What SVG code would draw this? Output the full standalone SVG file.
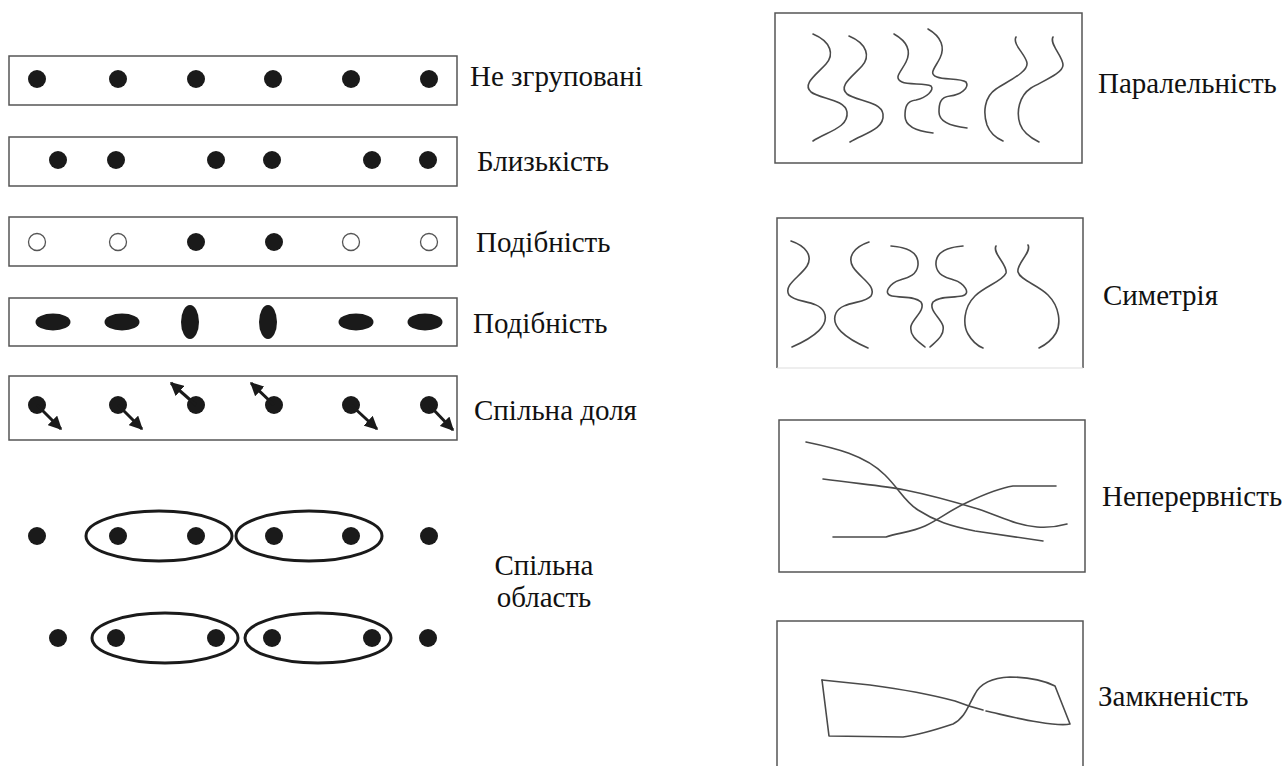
<svg xmlns="http://www.w3.org/2000/svg" width="1284" height="766" viewBox="0 0 1284 766">
<defs>
<style>
.box{fill:none;stroke:#555;stroke-width:1.5}
.dot{fill:#1a1a1a}
.open{fill:#fff;stroke:#555;stroke-width:1.3}
.ring{fill:none;stroke:#1a1a1a;stroke-width:3}
.arr{stroke:#1a1a1a;stroke-width:3;fill:none}
.crv{fill:none;stroke:#4a4a4a;stroke-width:1.6;stroke-linecap:round;stroke-linejoin:round}
.lbl{font-family:'Liberation Serif','Times New Roman',serif;font-size:29px;fill:#111}
</style>
<marker id="ah" viewBox="0 0 10 10" refX="9" refY="5" markerWidth="4.5" markerHeight="4.5" orient="auto" markerUnits="strokeWidth">
<path d="M0,0 L10,5 L0,10 z" fill="#1a1a1a"/>
</marker>
</defs>
<rect width="1284" height="766" fill="#fff"/>

<g id="row-ungrouped">
<rect class="box" x="9" y="56" width="448" height="49"/>
<circle class="dot" cx="37" cy="79" r="9"/><circle class="dot" cx="118" cy="79" r="9"/><circle class="dot" cx="196" cy="79" r="9"/>
<circle class="dot" cx="273" cy="79" r="9"/><circle class="dot" cx="351" cy="79" r="9"/><circle class="dot" cx="429" cy="79" r="9"/>
<text class="lbl" x="470" y="86" font-family="'Liberation Serif', serif">Не згруповані</text>
</g>

<g id="row-proximity">
<rect class="box" x="9" y="137" width="448" height="49"/>
<circle class="dot" cx="58" cy="160" r="9"/><circle class="dot" cx="116" cy="160" r="9"/><circle class="dot" cx="216" cy="160" r="9"/>
<circle class="dot" cx="272" cy="160" r="9"/><circle class="dot" cx="372" cy="160" r="9"/><circle class="dot" cx="428" cy="160" r="9"/>
<text class="lbl" x="477" y="171" font-family="'Liberation Serif', serif">Близькість</text>
</g>

<g id="row-similarity1">
<rect class="box" x="9" y="217" width="448" height="49"/>
<circle class="open" cx="37" cy="242" r="8.5"/><circle class="open" cx="118" cy="242" r="8.5"/><circle class="dot" cx="196" cy="242" r="9"/>
<circle class="dot" cx="274" cy="242" r="9"/><circle class="open" cx="351" cy="242" r="8.5"/><circle class="open" cx="429" cy="242" r="8.5"/>
<text class="lbl" x="476" y="252" font-family="'Liberation Serif', serif">Подібність</text>
</g>

<g id="row-similarity2">
<rect class="box" x="9" y="298" width="448" height="48"/>
<ellipse class="dot" cx="53" cy="322" rx="17.5" ry="8.5"/><ellipse class="dot" cx="122" cy="322" rx="17.5" ry="8.5"/>
<ellipse class="dot" cx="190" cy="322" rx="9" ry="17"/><ellipse class="dot" cx="268" cy="322" rx="9" ry="17"/>
<ellipse class="dot" cx="356" cy="322" rx="17.5" ry="8.5"/><ellipse class="dot" cx="425" cy="322" rx="17.5" ry="8.5"/>
<text class="lbl" x="473" y="333" font-family="'Liberation Serif', serif">Подібність</text>
</g>

<g id="row-common-fate">
<rect class="box" x="9" y="376" width="448" height="64"/>
<circle class="dot" cx="37" cy="405" r="9"/><circle class="dot" cx="118" cy="405" r="9"/><circle class="dot" cx="196" cy="405" r="9"/>
<circle class="dot" cx="274" cy="405" r="9"/><circle class="dot" cx="351" cy="405" r="9"/><circle class="dot" cx="429" cy="405" r="9"/>
<text class="lbl" x="474" y="420" font-family="'Liberation Serif', serif">Спільна доля</text>
</g>

<g id="row-common-region">
<circle class="dot" cx="37" cy="536" r="9"/><circle class="dot" cx="118" cy="536" r="9"/><circle class="dot" cx="196" cy="536" r="9"/>
<circle class="dot" cx="274" cy="536" r="9"/><circle class="dot" cx="351" cy="536" r="9"/><circle class="dot" cx="429" cy="536" r="9"/>
<ellipse class="ring" cx="159" cy="536" rx="73" ry="25"/><ellipse class="ring" cx="309" cy="536" rx="73" ry="25"/>
<circle class="dot" cx="58" cy="638" r="9"/><circle class="dot" cx="116" cy="638" r="9"/><circle class="dot" cx="216" cy="638" r="9"/>
<circle class="dot" cx="272" cy="638" r="9"/><circle class="dot" cx="372" cy="638" r="9"/><circle class="dot" cx="428" cy="638" r="9"/>
<ellipse class="ring" cx="165" cy="638" rx="73" ry="25"/><ellipse class="ring" cx="318" cy="638" rx="73" ry="25"/>
<text class="lbl" x="544" y="575" text-anchor="middle" font-family="'Liberation Serif', serif">Спільна</text>
<text class="lbl" x="544" y="607" text-anchor="middle" font-family="'Liberation Serif', serif">область</text>
</g>

<g id="connectors">
<line class="arr" x1="37" y1="405" x2="61" y2="429" marker-end="url(#ah)"/>
<line class="arr" x1="118" y1="405" x2="142" y2="429" marker-end="url(#ah)"/>
<line class="arr" x1="196" y1="405" x2="171" y2="383" marker-end="url(#ah)"/>
<line class="arr" x1="274" y1="405" x2="251" y2="383" marker-end="url(#ah)"/>
<line class="arr" x1="351" y1="405" x2="377" y2="429" marker-end="url(#ah)"/>
<line class="arr" x1="429" y1="405" x2="453" y2="430" marker-end="url(#ah)"/>
</g>

<g id="parallelism">
<rect class="box" x="775" y="13" width="307" height="150" stroke="#666"/>
<path class="crv" d="M813,34 C832,42 834,55 826,64 C816,75 802,84 811,92 C820,99 845,99 847,112 C849,128 826,132 813,141"/>
<path class="crv" d="M849,36 C868,44 870,57 862,66 C852,77 838,86 847,94 C856,101 881,101 883,114 C885,130 862,134 850,142"/>
<path class="crv" d="M894,34 C908,42 911,52 906,62 C901,72 893,78 902,82 C908,85 925,83 931,86 C935,90 926,98 916,100 C906,101 905,108 905,116 C905,125 915,131 933,133"/>
<path class="crv" d="M928,29 C942,37 945,48 940,58 C935,68 928,74 937,77 C944,80 960,78 966,82 C970,88 960,95 950,96 C940,97 939,104 939,112 C939,121 949,126 967,128"/>
<path class="crv" d="M1016,37 C1012,44 1026,55 1027,63 C1028,72 1010,80 996,89 C984,97 983,113 987,125 C990,133 996,138 1003,141"/>
<path class="crv" d="M1053,37 C1049,44 1063,56 1063,65 C1063,73 1045,80 1031,88 C1019,96 1016,112 1020,124 C1023,133 1031,138 1039,142"/>
<text class="lbl" x="1098" y="93" font-family="'Liberation Serif', serif">Паралельність</text>
</g>

<g id="symmetry">
<path class="box" d="M777,368 V218 H1083 V368" stroke="#666"/>
<line x1="777" y1="368" x2="1083" y2="368" stroke="#ddd" stroke-width="1"/>
<path class="crv" d="M791,241 C806,246 813,256 807,266 C800,277 783,285 789,295 C795,303 818,300 824,312 C830,325 815,337 792,347"/>
<path class="crv" d="M869,242 C854,247 847,257 853,267 C860,278 877,286 871,296 C865,304 842,301 836,313 C830,326 845,338 868,348"/>
<path class="crv" d="M891,246 C905,247 919,251 918,265 C917,276 906,278 900,280 C890,283 882,294 892,296 C902,298 915,296 921,302 C926,310 913,318 911,326 C909,336 919,342 925,347"/>
<path class="crv" d="M963,246 C949,247 935,251 936,265 C937,276 948,278 954,280 C964,283 972,294 962,296 C952,298 939,296 933,302 C928,310 941,318 943,326 C945,336 935,342 930,347"/>
<path class="crv" d="M996,246 C992,253 1008,265 1006,273 C1003,281 985,286 975,296 C963,308 963,325 968,334 C972,341 978,346 983,348"/>
<path class="crv" d="M1028,245 C1032,252 1016,264 1018,272 C1020,280 1038,285 1048,295 C1060,307 1061,324 1056,333 C1052,340 1045,345 1039,348"/>
<text class="lbl" x="1103" y="305" font-family="'Liberation Serif', serif">Симетрія</text>
</g>

<g id="continuity">
<rect class="box" x="779" y="420" width="306" height="152" stroke="#666"/>
<path class="crv" d="M806,442 C835,448 865,455 885,475 C900,490 905,502 918,510 C935,521 950,526 975,531 L1043,541"/>
<path class="crv" d="M823,479 C860,484 885,486 905,490 C930,495 955,502 978,509 C1000,516 1015,525 1037,527 C1050,528 1060,526 1067,524"/>
<path class="crv" d="M833,537 L886,537 C898,533 912,532 925,526 C940,519 950,510 968,502 C985,494 1000,488 1013,486 L1056,486"/>
<text class="lbl" x="1102" y="506" font-family="'Liberation Serif', serif">Неперервність</text>
</g>

<g id="closure">
<path class="box" d="M777,766 V621 H1083 V766" stroke="#666"/>
<path class="crv" d="M822,680 L829,736 L903,737 C918,735 935,730 953,724 C965,718 968,706 975,694 C980,684 990,678 1010,677 C1030,677 1045,681 1055,686 L1070,724 C1062,726 1050,724 1038,722 C1018,719 1000,714 986,711"/>
<path class="crv" d="M983,710 C975,708 965,705 955,701 C925,693 900,689 870,685 L822,680"/>
<text class="lbl" x="1098" y="706" font-family="'Liberation Serif', serif">Замкненість</text>
</g>
</svg>
